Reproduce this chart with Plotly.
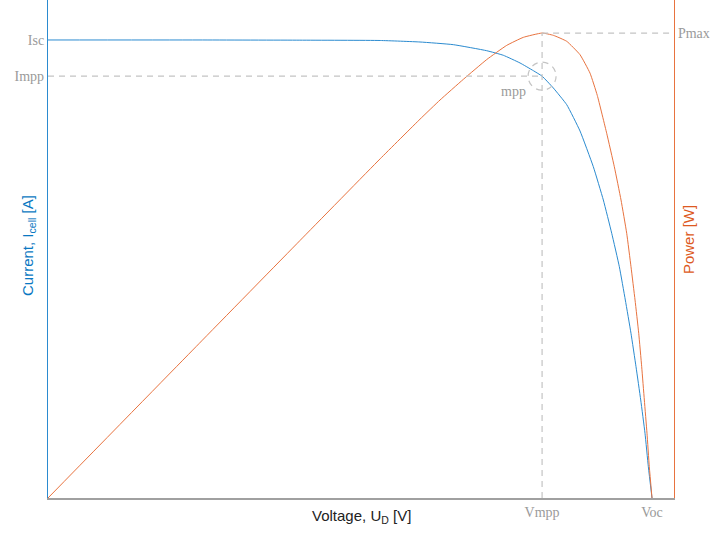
import plotly.graph_objects as go

# I-V curve (normalized: Voc = 1, Isc = 1)
voltage_i = [0.0, 0.25, 0.417, 0.550, 0.6159, 0.6710, 0.7263, 0.7538, 0.7815, 0.8035,
             0.818, 0.8366, 0.8588, 0.8808, 0.9028, 0.9194, 0.9333, 0.9459, 0.9558,
             0.9652, 0.9735, 0.9813, 0.9884, 0.9939, 1.0]
current = [1.0, 1.0, 0.9996, 0.9989, 0.9956, 0.9898, 0.9766, 0.9666, 0.9498, 0.9330,
           0.921, 0.8952, 0.8587, 0.8013, 0.7234, 0.6507, 0.5779, 0.5050, 0.4323,
           0.3596, 0.2867, 0.2140, 0.1413, 0.0683, 0.0]

# P-V curve
voltage_p = [0.0, 0.25, 0.417, 0.550, 0.6159, 0.6490, 0.6876, 0.7263, 0.7594, 0.7869,
             0.818, 0.8366, 0.8588, 0.8808, 0.8974, 0.9094, 0.9250, 0.9376, 0.9487,
             0.9581, 0.9652, 0.9719, 0.9780, 0.9829, 0.9873, 0.9917, 0.9955, 1.0]
power = [0.0, 0.25, 0.4168, 0.5494, 0.6135, 0.6445, 0.678, 0.710, 0.733, 0.746,
         0.753, 0.7493, 0.7396, 0.7179, 0.688, 0.652, 0.5906, 0.5365, 0.4826,
         0.4287, 0.3746, 0.3206, 0.2667, 0.2126, 0.1587, 0.1048, 0.0507, 0.0]

Isc, Impp = 1.0, 0.921
Vmpp, Voc = 0.818, 1.0
Pmax = 0.753

x_ticks = [Vmpp, Voc]
x_labels = ["Vmpp", "Voc"]
y_ticks = [Isc, Impp]
y_labels = ["Isc", "Impp"]
y2_ticks = [Pmax]
y2_labels = ["Pmax"]

BLUE_LINE = "#2b8bd0"
BLUE_TXT = "#0a78c2"
ORANGE_LINE = "#e8733f"
ORANGE_TXT = "#dd5a22"
GRAY = "#9a9a9a"
DASH = "#c4c4c4"
serif = "Liberation Serif"
sans = "Liberation Sans"

fig = go.Figure()
fig.add_trace(go.Scatter(x=voltage_i, y=current, mode="lines",
                         line=dict(color=BLUE_LINE, width=1, shape="spline", smoothing=0.4),
                         hoverinfo="skip", showlegend=False))
fig.add_trace(go.Scatter(x=voltage_p, y=power, mode="lines", yaxis="y2",
                         line=dict(color=ORANGE_LINE, width=1, shape="spline", smoothing=0.4),
                         hoverinfo="skip", showlegend=False))

dash = dict(color=DASH, width=1.2, dash="6px,5px")
shapes = [
    dict(type="line", xref="x", yref="y", x0=0, x1=Vmpp, y0=Impp, y1=Impp, line=dash),
    dict(type="line", xref="x", yref="y2", x0=Vmpp, x1=Vmpp, y0=0, y1=Pmax, line=dash),
    dict(type="line", xref="x", yref="y2", x0=Vmpp, x1=1.0364, y0=Pmax, y1=Pmax, line=dash),
    dict(type="circle", xref="x", yref="y", xsizemode="pixel", ysizemode="pixel",
         xanchor=Vmpp, yanchor=Impp, x0=-14, x1=14, y0=-14, y1=14, line=dash),
]

annotations = [
    dict(text="Voltage, U<sub>D</sub> [V]", xref="paper", yref="paper", x=0.5, y=-0.038,
         xanchor="center", yanchor="middle", showarrow=False,
         font=dict(family=sans, size=15, color="#222")),
    dict(text="Current, I<sub>cell</sub> [A]", xref="paper", yref="paper", x=-0.032, y=0.508,
         xanchor="center", yanchor="middle", textangle=-90, showarrow=False,
         font=dict(family=sans, size=15, color=BLUE_TXT)),
    dict(text="Power [W]", xref="paper", yref="paper", x=1.0224, y=0.518,
         xanchor="center", yanchor="middle", textangle=-90, showarrow=False,
         font=dict(family=sans, size=15, color=ORANGE_TXT)),
    dict(text="mpp", xref="x", yref="y", x=Vmpp, y=Impp, xshift=-29, yshift=-15,
         xanchor="center", yanchor="middle", showarrow=False,
         font=dict(family=serif, size=14, color=GRAY)),
]

fig.update_layout(
    width=713, height=534,
    margin=dict(l=48, r=39, t=0, b=36),
    paper_bgcolor="white", plot_bgcolor="white",
    shapes=shapes, annotations=annotations,
    xaxis=dict(range=[0, 1.0364], showgrid=False, zeroline=False, showline=True,
               linecolor="#a0a0a0", linewidth=1.5, tickmode="array", tickvals=x_ticks,
               ticktext=x_labels, ticks="", tickfont=dict(family=serif, size=14, color=GRAY)),
    yaxis=dict(range=[0, 1.0873], showgrid=False, zeroline=False, showline=True,
               linecolor=BLUE_LINE, linewidth=1.2, tickmode="array", tickvals=y_ticks,
               ticktext=y_labels, ticks="", tickfont=dict(family=serif, size=14, color=GRAY)),
    yaxis2=dict(range=[0, 0.8065], overlaying="y", side="right", showgrid=False,
                zeroline=False, showline=True, linecolor=ORANGE_LINE, linewidth=1.2,
                tickmode="array", tickvals=y2_ticks, ticktext=y2_labels, ticks="",
                tickfont=dict(family=serif, size=14, color=GRAY)),
)

fig.write_html("out.html")
